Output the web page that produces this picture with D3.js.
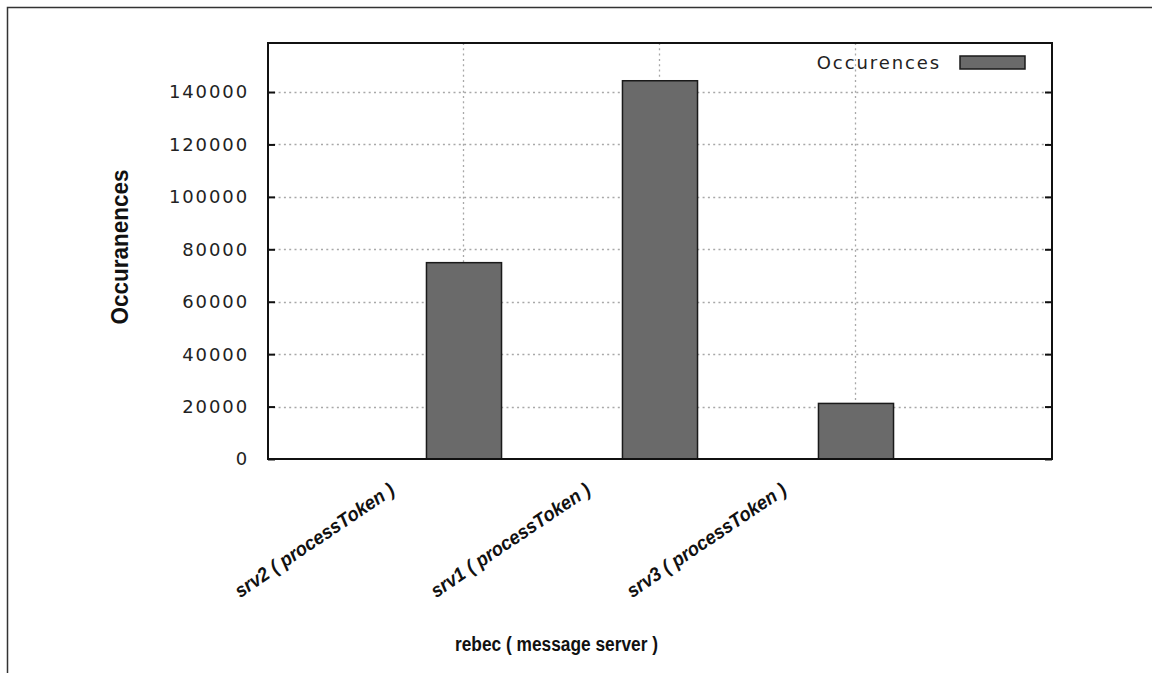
<!DOCTYPE html>
<html>
<head>
<meta charset="utf-8">
<script src="https://cdn.jsdelivr.net/npm/d3@7"></script>
<style>
  html, body { margin: 0; padding: 0; background: #fff; }
  svg { display: block; }
  .tick-label { font-family: "DejaVu Sans", sans-serif; font-size: 18px; letter-spacing: 1.9px; fill: #222; }
  .title { font-family: "Liberation Sans", Arial, sans-serif; font-weight: bold; fill: #111; }
  .cat-label { font-family: "Liberation Sans", Arial, sans-serif; font-weight: bold; font-style: italic; font-size: 19.5px; fill: #111; }
</style>
</head>
<body>
<div id="chart"></div>
<script>
(function () {
  var categories = ['srv2 ( processToken )', 'srv1 ( processToken )', 'srv3 ( processToken )'];
  var occurrences = [74900, 144300, 21200];
  var yTicks = [0, 20000, 40000, 60000, 80000, 100000, 120000, 140000];
  var yMax = 158700;
  var legendLabel = 'Occurences';
  var xTitle = 'rebec ( message server )';
  var yTitle = 'Occuranences';

  var width = 1152;
  var height = 673;
  var plot = { left: 268, right: 1052, top: 43, bottom: 459 };

  var svg = d3.select('#chart')
    .append('svg')
    .attr('width', width)
    .attr('height', height);

  // outer frame (only top and left edges visible)
  svg.append('path')
    .attr('d', 'M7.5,' + height + 'V7.5H' + width)
    .attr('fill', 'none')
    .attr('stroke', '#333')
    .attr('stroke-width', 1.5);

  var x = d3.scalePoint()
    .domain(categories)
    .range([plot.left, plot.right])
    .padding(1);

  var y = d3.scaleLinear()
    .domain([0, yMax])
    .range([plot.bottom, plot.top]);

  var barWidth = x.step() * 0.383;

  // grid
  var grid = svg.append('g')
    .attr('stroke', '#a8a8a8')
    .attr('stroke-width', 1.3)
    .attr('stroke-dasharray', '2,3.3');

  grid.selectAll('line.h')
    .data(yTicks.filter(function (d) { return d > 0; }))
    .enter().append('line')
    .attr('x1', plot.left)
    .attr('x2', plot.right)
    .attr('y1', function (d) { return Math.round(y(d)) + 0.5; })
    .attr('y2', function (d) { return Math.round(y(d)) + 0.5; });

  grid.selectAll('line.v')
    .data(categories)
    .enter().append('line')
    .attr('x1', function (d) { return Math.round(x(d)) - 0.5; })
    .attr('x2', function (d) { return Math.round(x(d)) - 0.5; })
    .attr('y1', plot.top)
    .attr('y2', plot.bottom);

  // bars
  svg.append('g').selectAll('rect')
    .data(categories)
    .enter().append('rect')
    .attr('x', function (d) { return x(d) - barWidth / 2; })
    .attr('y', function (d, i) { return y(occurrences[i]); })
    .attr('width', barWidth)
    .attr('height', function (d, i) { return y(0) - y(occurrences[i]); })
    .attr('fill', '#6a6a6a')
    .attr('stroke', '#1a1a1a')
    .attr('stroke-width', 1.5);

  // axes: left ticks + mirrored right ticks
  var leftAxis = svg.append('g')
    .attr('transform', 'translate(' + plot.left + ',0)')
    .call(d3.axisRight(y).tickValues(yTicks).tickSize(7).tickFormat(''));
  var rightAxis = svg.append('g')
    .attr('transform', 'translate(' + plot.right + ',0)')
    .call(d3.axisLeft(y).tickValues(yTicks).tickSize(7).tickFormat(''));
  [leftAxis, rightAxis].forEach(function (a) {
    a.select('.domain').remove();
    a.selectAll('line').attr('stroke', '#111').attr('stroke-width', 2);
  });

  svg.append('g').selectAll('text')
    .data(yTicks)
    .enter().append('text')
    .attr('class', 'tick-label')
    .attr('x', 249)
    .attr('y', function (d) { return y(d); })
    .attr('dy', '0.36em')
    .attr('text-anchor', 'end')
    .text(function (d) { return d; });

  // plot border
  svg.append('rect')
    .attr('x', plot.left)
    .attr('y', plot.top)
    .attr('width', plot.right - plot.left)
    .attr('height', plot.bottom - plot.top)
    .attr('fill', 'none')
    .attr('stroke', '#111')
    .attr('stroke-width', 2);

  // category labels, rotated
  svg.append('g').selectAll('text')
    .data(categories)
    .enter().append('text')
    .attr('class', 'cat-label')
    .attr('text-anchor', 'end')
    .attr('textLength', 188)
    .attr('lengthAdjust', 'spacingAndGlyphs')
    .attr('transform', function (d) {
      return 'translate(' + (x(d) - 68) + ',' + (plot.bottom + 34) + ') rotate(-34)';
    })
    .text(function (d) { return d; });

  // legend
  svg.append('text')
    .attr('class', 'tick-label')
    .attr('x', 941)
    .attr('y', 69)
    .attr('text-anchor', 'end')
    .text(legendLabel);
  svg.append('rect')
    .attr('x', 960)
    .attr('y', 56)
    .attr('width', 65)
    .attr('height', 13)
    .attr('fill', '#6a6a6a')
    .attr('stroke', '#1a1a1a')
    .attr('stroke-width', 1.5);

  // titles
  svg.append('text')
    .attr('class', 'title')
    .attr('x', 556.5)
    .attr('y', 651)
    .attr('text-anchor', 'middle')
    .attr('font-size', 20)
    .attr('textLength', 203)
    .attr('lengthAdjust', 'spacingAndGlyphs')
    .text(xTitle);

  svg.append('text')
    .attr('class', 'title')
    .attr('text-anchor', 'middle')
    .attr('font-size', 20)
    .attr('textLength', 155)
    .attr('lengthAdjust', 'spacingAndGlyphs')
    .attr('transform', 'translate(128,247) scale(1.2,1) rotate(-90)')
    .text(yTitle);
})();
</script>
</body>
</html>
